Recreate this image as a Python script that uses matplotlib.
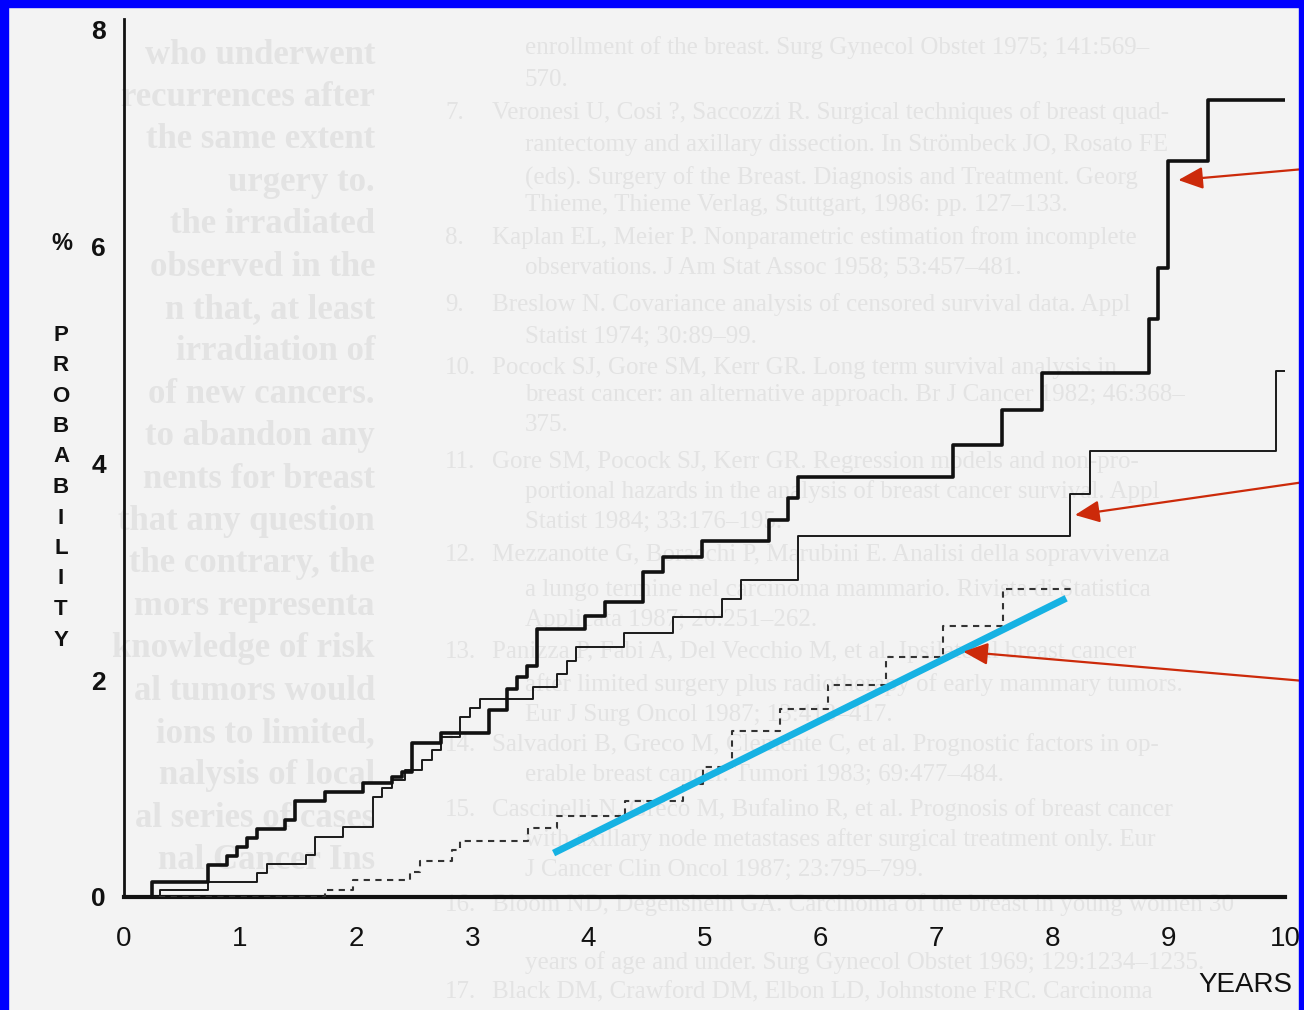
import matplotlib
matplotlib.use("Agg")
import matplotlib.pyplot as plt
from matplotlib.patches import Rectangle

# -- step curves (years, % probability) --
thick_x = [0, 0.239, 0.726, 0.885, 0.971, 1.057, 1.143, 1.387, 1.473, 1.731,
           2.061, 2.306, 2.392, 2.483, 2.728, 3.146, 3.301, 3.382, 3.469, 3.555,
           3.971, 4.143, 4.473, 4.645, 4.981, 5.556, 5.722, 5.808, 7.138, 7.560,
           7.904, 8.829, 8.909, 8.995, 9.339, 10.0]
thick_y = [0, 0.138, 0.295, 0.378, 0.464, 0.542, 0.625, 0.710, 0.888, 0.971,
           1.056, 1.110, 1.156, 1.418, 1.510, 1.725, 1.916, 2.027, 2.131, 2.470,
           2.592, 2.724, 2.995, 3.134, 3.287, 3.478, 3.681, 3.872, 4.170, 4.493,
           4.837, 5.329, 5.800, 6.790, 7.352, 7.352]

thin_x = [0, 0.310, 0.726, 1.143, 1.229, 1.568, 1.645, 1.889, 2.147, 2.220,
          2.306, 2.420, 2.564, 2.650, 2.728, 2.894, 2.980, 3.066, 3.525, 3.727,
          3.813, 3.896, 4.307, 4.731, 5.148, 5.312, 5.808, 8.148, 8.320, 9.922, 10.0]
thin_y = [0, 0.065, 0.141, 0.219, 0.304, 0.387, 0.558, 0.649, 0.918, 1.006,
          1.079, 1.172, 1.264, 1.356, 1.479, 1.658, 1.741, 1.829, 1.940, 2.053,
          2.177, 2.304, 2.438, 2.586, 2.746, 2.924, 3.330, 3.718, 4.114, 4.852, 4.852]

dotted_x = [0, 1.731, 1.975, 2.463, 2.550, 2.823, 2.894, 3.482, 3.727, 4.315,
            4.812, 4.984, 5.234, 5.650, 6.066, 6.561, 7.057, 7.568, 8.174]
dotted_y = [0, 0.065, 0.157, 0.233, 0.335, 0.434, 0.519, 0.634, 0.747, 0.888,
            1.042, 1.196, 1.534, 1.732, 1.956, 2.211, 2.503, 2.839, 2.839]

# blue line drawn over the chart
blue_x = [3.70, 8.115]
blue_y = [0.405, 2.756]

# red arrows: (tip x, tip y, tail x, tail y)
arrows = [(9.081, 6.614, 10.164, 6.716),
          (8.191, 3.524, 10.164, 3.828),
          (7.229, 2.263, 10.164, 1.993)]

x_ticks = list(range(0, 11))
y_ticks = [0, 2, 4, 6, 8]
y_letters = list("PROBABILITY")

# -- faint text showing through from the page --
left_lines = ["who underwent", "recurrences after", "the same extent",
              "urgery to.", "the irradiated", "observed in the",
              "n that, at least", "irradiation of", "of new cancers.",
              "to abandon any", "nents for breast", "that any question",
              "the contrary, the", "mors representa", "knowledge of risk",
              "al tumors would", "ions to limited,", "nalysis of local",
              "al series of cases", "nal Cancer Ins"]
right_lines = [
    ("", "enrollment of the breast. Surg Gynecol Obstet 1975; 141:569\u2013"),
    ("", "570."),
    ("7.", "Veronesi U, Cosi ?, Saccozzi R. Surgical techniques of breast quad-"),
    ("", "rantectomy and axillary dissection. In Str\u00f6mbeck JO, Rosato FE"),
    ("", "(eds). Surgery of the Breast. Diagnosis and Treatment. Georg"),
    ("", "Thieme, Thieme Verlag, Stuttgart, 1986: pp. 127\u2013133."),
    ("8.", "Kaplan EL, Meier P. Nonparametric estimation from incomplete"),
    ("", "observations. J Am Stat Assoc 1958; 53:457\u2013481."),
    ("9.", "Breslow N. Covariance analysis of censored survival data. Appl"),
    ("", "Statist 1974; 30:89\u201399."),
    ("10.", "Pocock SJ, Gore SM, Kerr GR. Long term survival analysis in"),
    ("", "breast cancer: an alternative approach. Br J Cancer 1982; 46:368\u2013"),
    ("", "375."),
    ("11.", "Gore SM, Pocock SJ, Kerr GR. Regression models and non-pro-"),
    ("", "portional hazards in the analysis of breast cancer survival. Appl"),
    ("", "Statist 1984; 33:176\u2013195."),
    ("12.", "Mezzanotte G, Boracchi P, Marubini E. Analisi della sopravvivenza"),
    ("", "a lungo termine nel carcinoma mammario. Rivista di Statistica"),
    ("", "Applicata 1987; 20:251\u2013262."),
    ("13.", "Panizza P, Fabi A, Del Vecchio M, et al. Ipsilateral breast cancer"),
    ("", "after limited surgery plus radiotherapy of early mammary tumors."),
    ("", "Eur J Surg Oncol 1987; 13:413\u2013417."),
    ("14.", "Salvadori B, Greco M, Clemente C, et al. Prognostic factors in op-"),
    ("", "erable breast cancer. Tumori 1983; 69:477\u2013484."),
    ("15.", "Cascinelli N, Greco M, Bufalino R, et al. Prognosis of breast cancer"),
    ("", "with axillary node metastases after surgical treatment only. Eur"),
    ("", "J Cancer Clin Oncol 1987; 23:795\u2013799."),
    ("16.", "Bloom ND, Degenshein GA. Carcinoma of the breast in young women 30"),
    ("", "years of age and under. Surg Gynecol Obstet 1969; 129:1234\u20131235."),
    ("17.", "Black DM, Crawford DM, Elbon LD, Johnstone FRC. Carcinoma"),
]
right_y = [48, 80, 113, 145, 178, 205, 238, 268, 305, 337, 368, 395, 425,
           462, 492, 522, 555, 590, 620, 652, 685, 715, 745, 775, 810, 840,
           870, 905, 963, 992]

W, H = 1304, 1010
fig = plt.figure(figsize=(W / 100, H / 100), dpi=100, facecolor="#f3f3f3")

# bleed-through from the back of the page: very faint
ghost = "#e3e3e3"
for i, line in enumerate(left_lines):
    fig.text(375 / W, 1 - (55 + i * 42.4) / H, line, ha="right", va="center",
             fontsize=25, family="Liberation Serif", fontweight="bold",
             color=ghost, zorder=-5)
for (num, line), yy in zip(right_lines, right_y):
    if num:
        fig.text(445 / W, 1 - yy / H, num, ha="left", va="center", fontsize=18,
                 family="Liberation Serif", color=ghost, zorder=-5)
        fig.text(492 / W, 1 - yy / H, line, ha="left", va="center", fontsize=18,
                 family="Liberation Serif", color=ghost, zorder=-5)
    else:
        fig.text(525 / W, 1 - yy / H, line, ha="left", va="center", fontsize=18,
                 family="Liberation Serif", color=ghost, zorder=-5)

ax = fig.add_axes([124 / W, 1 - 897 / H, (1285 - 124) / W, (897 - 19) / H])
ax.patch.set_alpha(0)
ax.set_xlim(0, 10)
ax.set_ylim(0, 8.1)

ax.step(thin_x, thin_y, where="post", color="#1a1a1a", lw=1.4, zorder=3)
ax.step(thick_x, thick_y, where="post", color="#111111", lw=2.6, zorder=4)
ax.step(dotted_x, dotted_y, where="post", color="#333333", lw=1.5,
        linestyle=(0, (3, 2.6)), zorder=3)
ax.plot(blue_x, blue_y, color="#16b2e3", lw=5, solid_capstyle="butt", zorder=5)

for tx, ty, sx, sy in arrows:
    ax.annotate("", xy=(tx, ty), xytext=(sx, sy), annotation_clip=False,
                arrowprops=dict(arrowstyle="-|>,head_length=1.0,head_width=0.45",
                                mutation_scale=15, color="#cc2a0a", lw=1.6,
                                shrinkA=0, shrinkB=0), zorder=6)

for side in ["top", "right"]:
    ax.spines[side].set_visible(False)
ax.spines["left"].set_linewidth(2.0)
ax.spines["bottom"].set_linewidth(3.0)
ax.spines["left"].set_color("#111111")
ax.spines["bottom"].set_color("#111111")

ax.set_xticks(x_ticks)
ax.set_xticklabels([str(t) for t in x_ticks],
                   family=["Liberation Sans Narrow", "Liberation Sans"], fontsize=20)
ax.set_yticks(y_ticks)
ax.set_yticklabels([str(t) for t in y_ticks], family="Liberation Sans",
                   fontsize=19, fontweight="bold")
ax.tick_params(axis="x", length=0, pad=21, colors="#111111")
ax.tick_params(axis="y", length=0, pad=13, colors="#111111")

fig.text(62 / W, 1 - 243 / H, "%", ha="center", va="center", fontsize=17,
         family="Liberation Sans", fontweight="bold", color="#111111")
for i, ch in enumerate(y_letters):
    fig.text(61 / W, 1 - (335 + i * 30.5) / H, ch, ha="center", va="center",
             fontsize=16, family="Liberation Sans", fontweight="bold",
             color="#111111")
fig.text(1245 / W, 1 - 985 / H, "YEARS", ha="center", va="center", fontsize=20,
         family=["Liberation Sans Narrow", "Liberation Sans"], color="#111111")

# blue frame of the scan
for x0, y0, w, h in [(0, 0, 8, H), (0, H - 7, W, 7), (W - 5, 0, 5, H)]:
    fig.patches.append(Rectangle((x0 / W, y0 / H), w / W, h / H,
                                 transform=fig.transFigure, color="#0000ff",
                                 zorder=10))

fig.savefig("out.png", dpi=100, facecolor=fig.get_facecolor())
